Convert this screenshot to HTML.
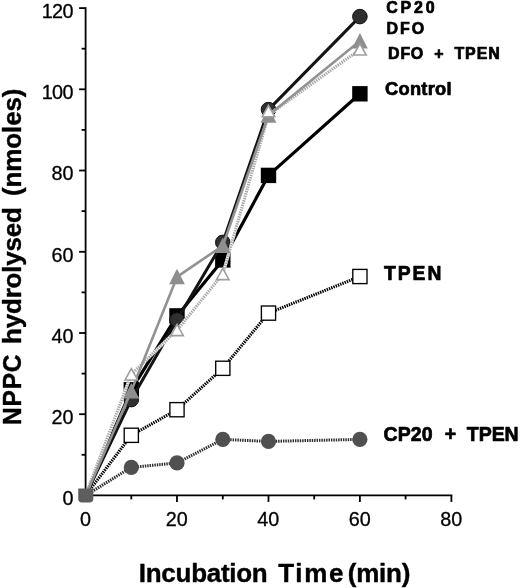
<!DOCTYPE html>
<html lang="en"><head><meta charset="utf-8"><title>NPPC hydrolysed vs Incubation Time</title>
<style>
html,body{margin:0;padding:0;background:#fff;}
body{width:520px;height:588px;overflow:hidden;}
svg{display:block;will-change:transform;transform:translateZ(0);}
text{font-family:"Liberation Sans",Arial,Helvetica,sans-serif;fill:#000;}
.tk{font-size:19.5px;}
.b{font-weight:bold;}
</style></head><body>
<svg width="520" height="588" viewBox="0 0 520 588">
<rect width="520" height="588" fill="#fff"/>

<g stroke="#000" stroke-width="1.8" fill="none" stroke-linecap="butt">
<path d="M85.6,7.2 V495.4 H452.3"/>
<path d="M81.6,454.8 H85.6"/>
<path d="M79.1,414.2 H85.6"/>
<path d="M81.6,373.6 H85.6"/>
<path d="M79.1,333.0 H85.6"/>
<path d="M81.6,292.4 H85.6"/>
<path d="M79.1,251.8 H85.6"/>
<path d="M81.6,211.1 H85.6"/>
<path d="M79.1,170.5 H85.6"/>
<path d="M81.6,129.9 H85.6"/>
<path d="M79.1,89.3 H85.6"/>
<path d="M81.6,48.7 H85.6"/>
<path d="M79.1,8.1 H85.6"/>
<path d="M131.3,495.4 V499.4"/>
<path d="M177.0,495.4 V501.9"/>
<path d="M222.8,495.4 V499.4"/>
<path d="M268.5,495.4 V501.9"/>
<path d="M314.2,495.4 V499.4"/>
<path d="M359.9,495.4 V501.9"/>
<path d="M405.6,495.4 V499.4"/>
<path d="M451.4,495.4 V501.9"/>
</g>
<text transform="translate(73.5,505.3) scale(1,1.03)" font-size="19.8" stroke="#000" stroke-width="0.3" stroke-linejoin="round" text-anchor="end">0</text>
<text transform="translate(73.5,424.1) scale(1,1.03)" font-size="19.8" stroke="#000" stroke-width="0.3" stroke-linejoin="round" text-anchor="end">20</text>
<text transform="translate(73.5,342.9) scale(1,1.03)" font-size="19.8" stroke="#000" stroke-width="0.3" stroke-linejoin="round" text-anchor="end">40</text>
<text transform="translate(73.5,261.7) scale(1,1.03)" font-size="19.8" stroke="#000" stroke-width="0.3" stroke-linejoin="round" text-anchor="end">60</text>
<text transform="translate(73.5,180.4) scale(1,1.03)" font-size="19.8" stroke="#000" stroke-width="0.3" stroke-linejoin="round" text-anchor="end">80</text>
<text letter-spacing="-0.6" transform="translate(72.9,99.2) scale(1,1.03)" font-size="19.8" stroke="#000" stroke-width="0.3" stroke-linejoin="round" text-anchor="end">100</text>
<text letter-spacing="-0.6" transform="translate(72.9,18.0) scale(1,1.03)" font-size="19.8" stroke="#000" stroke-width="0.3" stroke-linejoin="round" text-anchor="end">120</text>
<text transform="translate(85.4,526.2) scale(1,1.03)" font-size="19.8" stroke="#000" stroke-width="0.3" stroke-linejoin="round" text-anchor="middle">0</text>
<text transform="translate(176.8,526.2) scale(1,1.03)" font-size="19.8" stroke="#000" stroke-width="0.3" stroke-linejoin="round" text-anchor="middle">20</text>
<text transform="translate(268.3,526.2) scale(1,1.03)" font-size="19.8" stroke="#000" stroke-width="0.3" stroke-linejoin="round" text-anchor="middle">40</text>
<text transform="translate(359.7,526.2) scale(1,1.03)" font-size="19.8" stroke="#000" stroke-width="0.3" stroke-linejoin="round" text-anchor="middle">60</text>
<text transform="translate(451.2,526.2) scale(1,1.03)" font-size="19.8" stroke="#000" stroke-width="0.3" stroke-linejoin="round" text-anchor="middle">80</text>
<polyline points="85.6,495.4 131.3,467.4 177.0,462.9 222.8,439.4 268.5,441.4 359.9,439.4" fill="none" stroke="#fff" stroke-width="3.0"/><polyline points="85.6,495.4 131.3,467.4 177.0,462.9 222.8,439.4 268.5,441.4 359.9,439.4" fill="none" stroke="#2e2e2e" stroke-width="3.0" stroke-dasharray="1.45 0.95"/>
<circle cx="131.3" cy="467.4" r="7.6" fill="#505050"/>
<circle cx="177.0" cy="462.9" r="7.6" fill="#505050"/>
<circle cx="222.8" cy="439.4" r="7.6" fill="#505050"/>
<circle cx="268.5" cy="441.4" r="7.6" fill="#505050"/>
<circle cx="359.9" cy="439.4" r="7.6" fill="#505050"/>
<polyline points="85.6,495.4 131.3,435.3 177.0,409.7 222.8,368.3 268.5,313.1 359.9,276.5" fill="none" stroke="#fff" stroke-width="3.1"/><polyline points="85.6,495.4 131.3,435.3 177.0,409.7 222.8,368.3 268.5,313.1 359.9,276.5" fill="none" stroke="#000" stroke-width="3.1" stroke-dasharray="1.45 0.95"/>
<rect x="124.2" y="428.2" width="14.2" height="14.2" fill="#fff" stroke="#000" stroke-width="1.35"/>
<rect x="169.9" y="402.6" width="14.2" height="14.2" fill="#fff" stroke="#000" stroke-width="1.35"/>
<rect x="215.7" y="361.2" width="14.2" height="14.2" fill="#fff" stroke="#000" stroke-width="1.35"/>
<rect x="261.4" y="306.0" width="14.2" height="14.2" fill="#fff" stroke="#000" stroke-width="1.35"/>
<rect x="352.8" y="269.4" width="14.2" height="14.2" fill="#fff" stroke="#000" stroke-width="1.35"/>
<polyline points="85.6,495.4 131.3,389.8 177.0,315.9 222.8,259.9 268.5,175.4 359.9,93.8" fill="none" stroke="#000" stroke-width="3.2" stroke-linejoin="round"/>
<rect x="123.6" y="382.1" width="15.4" height="15.4" fill="#000"/>
<rect x="169.3" y="308.2" width="15.4" height="15.4" fill="#000"/>
<rect x="215.1" y="252.2" width="15.4" height="15.4" fill="#000"/>
<rect x="260.8" y="167.7" width="15.4" height="15.4" fill="#000"/>
<rect x="352.2" y="86.1" width="15.4" height="15.4" fill="#000"/>
<polyline points="85.6,495.4 131.3,399.6 177.0,320.0 222.8,242.4 268.5,109.6 359.9,16.6" fill="none" stroke="#141414" stroke-width="3.0" stroke-linejoin="round"/>
<circle cx="131.3" cy="399.6" r="7.3" fill="#303030" stroke="#111" stroke-width="1"/>
<circle cx="177.0" cy="320.0" r="7.3" fill="#303030" stroke="#111" stroke-width="1"/>
<circle cx="222.8" cy="242.4" r="7.3" fill="#303030" stroke="#111" stroke-width="1"/>
<circle cx="268.5" cy="109.6" r="7.3" fill="#303030" stroke="#111" stroke-width="1"/>
<circle cx="359.9" cy="16.6" r="7.3" fill="#303030" stroke="#111" stroke-width="1"/>
<polyline points="85.6,495.4 131.3,374.4 177.0,330.1 222.8,274.1 268.5,114.9 359.9,49.5" fill="none" stroke="#fff" stroke-width="3.1"/><polyline points="85.6,495.4 131.3,374.4 177.0,330.1 222.8,274.1 268.5,114.9 359.9,49.5" fill="none" stroke="#a8a8a8" stroke-width="3.1" stroke-dasharray="1.45 0.95"/>
<polyline points="85.6,495.4 131.3,391.0 177.0,276.9 222.8,245.7 268.5,115.3 359.9,41.0" fill="none" stroke="#929292" stroke-width="2.6" stroke-linejoin="round"/>
<polygon points="131.3,382.9 139.2,398.4 123.4,398.4" fill="#8e8e8e"/>
<polygon points="177.0,268.8 184.9,284.3 169.1,284.3" fill="#8e8e8e"/>
<polygon points="222.8,237.5 230.7,253.0 214.9,253.0" fill="#8e8e8e"/>
<polygon points="268.5,107.2 276.4,122.7 260.6,122.7" fill="#8e8e8e"/>
<polygon points="359.9,32.9 367.8,48.4 352.0,48.4" fill="#8e8e8e"/>
<polygon points="131.32,368.59 137.61,379.94 125.03,379.94" fill="#fff" stroke="#9e9e9e" stroke-width="1.6" stroke-linejoin="miter"/>
<polygon points="177.04,324.32 183.33,335.67 170.75,335.67" fill="#fff" stroke="#9e9e9e" stroke-width="1.6" stroke-linejoin="miter"/>
<polygon points="222.76,268.28 229.05,279.63 216.47,279.63" fill="#fff" stroke="#9e9e9e" stroke-width="1.6" stroke-linejoin="miter"/>
<polygon points="268.48,105.45 274.77,116.80 262.19,116.80" fill="#fff" stroke="#9e9e9e" stroke-width="1.6" stroke-linejoin="miter"/>
<polygon points="359.92,43.72 366.21,55.07 353.63,55.07" fill="#fff" stroke="#9e9e9e" stroke-width="1.6" stroke-linejoin="miter"/>
<path d="M78.2,488.4 H93.3 V499 Q93.3,502.4 89.5,502.4 H82 Q78.2,502.4 78.2,499 Z" fill="#5e5e5e"/>
<text class="b" transform="translate(386.21,13.4) scale(1,1.045)" font-size="16" stroke="#000" stroke-width="0.7" stroke-linejoin="round" textLength="48.54" lengthAdjust="spacing">CP20</text>
<text class="b" transform="translate(386.41,34.0) scale(1,1.045)" font-size="16" stroke="#000" stroke-width="0.7" stroke-linejoin="round" textLength="37.84" lengthAdjust="spacing">DFO</text>
<text class="b" transform="translate(0,59.2) scale(1,1.045)" font-size="16" stroke="#000" stroke-width="0.7" stroke-linejoin="round"><tspan x="388.12" textLength="35.18" lengthAdjust="spacing">DFO</tspan> <tspan x="434.22">+</tspan> <tspan x="454.45" textLength="45.29" lengthAdjust="spacing">TPEN</tspan></text>
<text class="b" transform="translate(385.01,94.9) scale(1,1.045)" font-size="18.3" stroke="#000" stroke-width="0.7" stroke-linejoin="round" textLength="66.53" lengthAdjust="spacing">Control</text>
<text class="b" transform="translate(383.92,279.9) scale(1,1.045)" font-size="19.3" stroke="#000" stroke-width="0.7" stroke-linejoin="round" textLength="57.44" lengthAdjust="spacing">TPEN</text>
<text class="b" transform="translate(0,441.4) scale(1,1.045)" font-size="19.5" stroke="#000" stroke-width="0.7" stroke-linejoin="round"><tspan x="383.62" textLength="48.98" lengthAdjust="spacing">CP20</tspan> <tspan x="444.72">+</tspan> <tspan x="466.86" textLength="51.84" lengthAdjust="spacing">TPEN</tspan></text>
<text class="b" transform="translate(0,581.7) scale(1,0.967)" font-size="26" stroke="#000" stroke-width="0.4" stroke-linejoin="round"><tspan x="138.8" textLength="128.95" lengthAdjust="spacing">Incubation</tspan> <tspan x="278.22" textLength="65.28" lengthAdjust="spacing">Time</tspan> <tspan x="347.85" textLength="62.53" lengthAdjust="spacing">(min)</tspan></text>
<text class="b" transform="translate(21.0,425.0) rotate(-90) scale(1,1.03)" font-size="24.4" stroke="#000" stroke-width="0.4" stroke-linejoin="round" textLength="70.47" lengthAdjust="spacing">NPPC</text>
<text class="b" transform="translate(21.0,0) rotate(-90) scale(1,0.967)" font-size="26" stroke="#000" stroke-width="0.4" stroke-linejoin="round"><tspan x="-344.0" textLength="136.95" lengthAdjust="spacing">hydrolysed</tspan> <tspan x="-196.0" textLength="107.48" lengthAdjust="spacing">(nmoles)</tspan></text>
</svg></body></html>
